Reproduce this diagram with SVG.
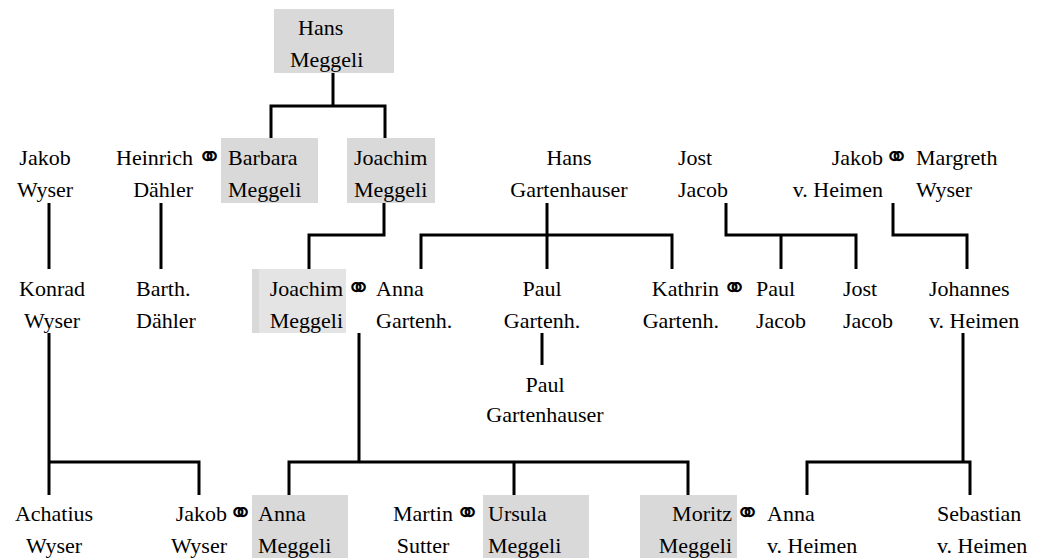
<svg xmlns="http://www.w3.org/2000/svg" width="1052" height="558" viewBox="0 0 1052 558">
<style>
text{font-family:"Liberation Serif","Times New Roman",serif;font-size:22px;fill:#000}
.m{text-anchor:middle}.e{text-anchor:end}
text.mar{font-family:"DejaVu Sans",sans-serif;font-size:30px;font-weight:bold}
.box{fill:#d9d9d9}
.con path{fill:none;stroke:#000;stroke-width:3}
</style>
<rect width="1052" height="558" fill="#fff"/>
<g class="con" id="connectors">
<path d="M333,73V106M271,138V106H385V138"/>
<path d="M49,203V269"/>
<path d="M161,203V269"/>
<path d="M384,203V235H309V269"/>
<path d="M547,203V269M421,269V235H672V269"/>
<path d="M726,203V235H856V269M781,235V269"/>
<path d="M893,203V235H967V269"/>
<path d="M542,333V365"/>
<path d="M49,333V495M49,462H199V495"/>
<path d="M359,333V462M289,495V462H688V495M514,462V495"/>
<path d="M963,333V462M807,495V462H970V495"/>
</g>
<g id="hans-meggeli"><rect class="box" x="274" y="9" width="120" height="64"/><text x="298" y="35">Hans</text><text x="290" y="67">Meggeli</text></g>
<g id="jakob-wyser-1"><text class="m" x="45" y="165">Jakob</text><text class="m" x="45" y="197">Wyser</text></g>
<g id="heinrich-daehler"><text class="e" x="193" y="165">Heinrich</text><text class="e" x="193" y="197">Dähler</text><text class="mar" x="197" y="167">⚭</text></g>
<g id="barbara-meggeli"><rect class="box" x="221" y="138" width="97" height="65"/><text x="228" y="165">Barbara</text><text x="228" y="197">Meggeli</text></g>
<g id="joachim-meggeli-1"><rect class="box" x="347" y="138" width="88" height="65"/><text x="354" y="165">Joachim</text><text x="354" y="197">Meggeli</text></g>
<g id="hans-gartenhauser"><text class="m" x="569" y="165">Hans</text><text class="m" x="569" y="197">Gartenhauser</text></g>
<g id="jost-jacob-1"><text x="678" y="165">Jost</text><text x="678" y="197">Jacob</text></g>
<g id="jakob-vheimen"><text class="e" x="883" y="165">Jakob</text><text class="e" x="883" y="197">v. Heimen</text><text class="mar" x="884" y="167">⚭</text></g>
<g id="margreth-wyser"><text x="916" y="165">Margreth</text><text x="916" y="197">Wyser</text></g>
<g id="konrad-wyser"><text class="m" x="52" y="296">Konrad</text><text class="m" x="52" y="328">Wyser</text></g>
<g id="barth-daehler"><text x="136" y="296">Barth.</text><text x="136" y="328">Dähler</text></g>
<g id="joachim-meggeli-2"><rect x="252" y="269" width="94" height="64" fill="#e4e4e4"/><rect class="box" x="252" y="269" width="7" height="64"/><text class="e" x="343" y="296">Joachim</text><text class="e" x="343" y="328">Meggeli</text><text class="mar" x="346" y="298">⚭</text></g>
<g id="anna-gartenh"><text x="376" y="296">Anna</text><text x="376" y="328">Gartenh.</text></g>
<g id="paul-gartenh"><text class="m" x="542" y="296">Paul</text><text class="m" x="542" y="328">Gartenh.</text></g>
<g id="kathrin-gartenh"><text class="e" x="719" y="296">Kathrin</text><text class="e" x="719" y="328">Gartenh.</text><text class="mar" x="722" y="298">⚭</text></g>
<g id="paul-jacob"><text x="756" y="296">Paul</text><text x="756" y="328">Jacob</text></g>
<g id="jost-jacob-2"><text x="843" y="296">Jost</text><text x="843" y="328">Jacob</text></g>
<g id="johannes-vheimen"><text x="929" y="296">Johannes</text><text x="929" y="328">v. Heimen</text></g>
<g id="paul-gartenhauser"><text class="m" x="545" y="392">Paul</text><text class="m" x="545" y="422">Gartenhauser</text></g>
<g id="achatius-wyser"><text class="m" x="54" y="521">Achatius</text><text class="m" x="54" y="553">Wyser</text></g>
<g id="jakob-wyser-2"><text class="e" x="227" y="521">Jakob</text><text class="e" x="227" y="553">Wyser</text><text class="mar" x="228" y="523">⚭</text></g>
<g id="anna-meggeli"><rect class="box" x="252" y="495" width="96" height="63"/><text x="258" y="521">Anna</text><text x="258" y="553">Meggeli</text></g>
<g id="martin-sutter"><text class="m" x="423" y="521">Martin</text><text class="m" x="423" y="553">Sutter</text><text class="mar" x="455" y="523">⚭</text></g>
<g id="ursula-meggeli"><rect class="box" x="483" y="495" width="106" height="63"/><text x="488" y="521">Ursula</text><text x="488" y="553">Meggeli</text></g>
<g id="moritz-meggeli"><rect class="box" x="640" y="495" width="97" height="63"/><text class="e" x="732" y="521">Moritz</text><text class="e" x="732" y="553">Meggeli</text><text class="mar" x="735" y="523">⚭</text></g>
<g id="anna-vheimen"><text x="767" y="521">Anna</text><text x="767" y="553">v. Heimen</text></g>
<g id="sebastian-vheimen"><text x="937" y="521">Sebastian</text><text x="937" y="553">v. Heimen</text></g>
</svg>
